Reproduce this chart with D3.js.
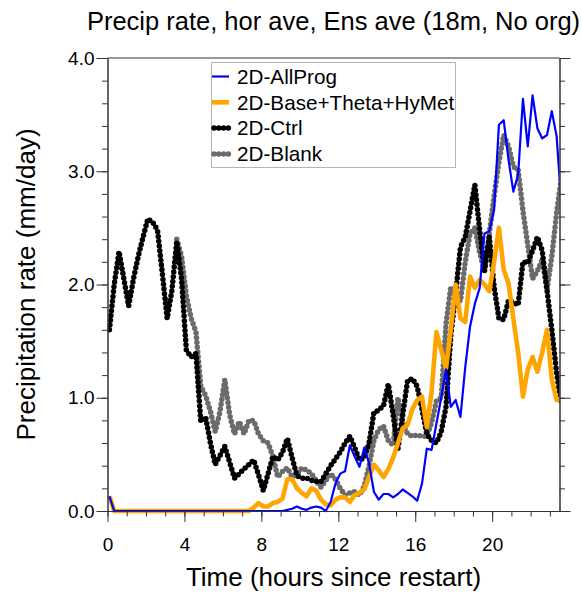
<!DOCTYPE html>
<html>
<head>
<meta charset="utf-8">
<script src="https://cdn.jsdelivr.net/npm/d3@7"></script>
<style>
  body { margin: 0; background: #fff; }
  svg text { font-family: "Liberation Sans", Arial, Helvetica, sans-serif; fill: #000; }
</style>
</head>
<body>
<svg id="chart" width="582" height="594"></svg>
<script>
// output every 15 min, first sample 0.1 h after restart
var startHour = 0.1, stepHour = 0.25;

var allProg = [0.13,0,0,0,0,0,0,0,0,0, 0,0,0,0,0,0,0,0,0,0,
  0,0,0,0,0,0,0,0,0,0, 0,0,0,0,0,0,0,0.01,0.02,0.04,
  0.02,0.01,0.03,0.04,0.03,0.00,0.08,0.24,0.33,0.35, 0.58,0.48,0.39,0.56,0.42,0.17,0.10,0.15,0.15,0.12,
  0.15,0.19,0.16,0.13,0.09,0.24,0.55,0.54,0.77,1.00, 1.25,0.92,0.98,0.83,1.27,1.63,1.83,1.97,2.45,2.47,
  2.66,3.41,3.45,3.10,2.82,2.97,3.64,3.22,3.67,3.38, 3.29,3.32,3.53,3.31,2.70];

var baseThetaHyMet = [0.13,0,0,0,0,0,0,0,0,0, 0,0,0,0,0,0,0,0,0,0,
  0,0,0,0,0,0,0,0,0,0, 0.03,0.07,0.04,0.04,0.07,0.08,0.11,0.28,0.28,0.20,
  0.16,0.13,0.20,0.18,0.10,0.06,0.05,0.10,0.12,0.12, 0.08,0.14,0.16,0.19,0.30,0.41,0.36,0.30,0.37,0.47,
  0.60,0.73,0.76,0.90,0.98,1.01,0.74,1.05,1.58,1.42, 1.26,1.60,2.00,1.70,1.67,2.07,1.97,2.04,2.00,1.94,
  2.20,2.50,2.13,2.01,1.70,1.40,1.01,1.25,1.36,1.23, 1.40,1.60,1.16,0.98,1.00];

var ctrl = [1.60,2.00,2.29,2.05,1.81,2.05,2.25,2.42,2.58,2.55, 2.48,2.10,1.70,1.95,2.38,2.05,1.42,1.36,1.39,0.79,
  0.83,0.60,0.41,0.49,0.57,0.43,0.29,0.33,0.37,0.41, 0.45,0.32,0.18,0.33,0.48,0.45,0.52,0.64,0.47,0.31,
  0.29,0.29,0.27,0.26,0.26,0.33,0.40,0.46,0.52,0.60, 0.66,0.56,0.45,0.47,0.60,0.87,0.89,0.93,1.12,0.85,
  0.55,0.85,1.15,1.17,1.10,0.90,0.68,0.62,0.60,0.70, 0.92,1.55,1.92,2.33,2.42,2.65,2.88,2.48,2.12,2.42,
  1.98,1.70,1.69,1.86,1.84,1.82,2.20,2.19,2.30,2.42, 2.30,1.95,1.60,1.22,0.95];

var blank = [null,null,null,null,null,null,null,null,null,null, null,null,null,null,2.40,2.25,1.90,1.70,1.58,1.10,
  1.02,0.88,0.70,0.88,1.16,0.85,0.68,0.79,0.68,0.80, 0.80,0.68,0.62,0.60,0.48,0.30,0.35,0.38,0.30,0.32,
  0.38,0.36,0.33,0.27,0.21,0.27,0.33,0.28,0.20,0.14, 0.16,0.17,0.14,0.22,0.40,0.62,0.72,0.75,0.62,0.58,
  1.00,0.78,0.68,0.66,0.67,0.66,0.66,0.78,0.97,1.00, 1.65,1.98,1.90,1.85,2.20,2.45,2.50,2.28,2.12,2.45,
  2.78,3.08,3.32,3.22,3.04,3.01,2.65,2.35,2.05,2.12, 2.22,1.95,2.25,2.63,2.95];

var seriesNames = ["2D-AllProg", "2D-Base+Theta+HyMet", "2D-Ctrl", "2D-Blank"];
var xMajorTicks = [0, 4, 8, 12, 16, 20];
var yMajorTicks = [0, 1, 2, 3, 4];

var styles = {
  "2D-AllProg": {color: "#0000ff", width: 2.2, dash: null},
  "2D-Base+Theta+HyMet": {color: "#ffa500", width: 4.6, dash: null},
  "2D-Ctrl": {color: "#000000", width: 5.5, dash: "0,4.8"},
  "2D-Blank": {color: "#6b6b6b", width: 5.5, dash: "0,4.8"}
};

var series = [
  {name: "2D-AllProg", values: allProg},
  {name: "2D-Base+Theta+HyMet", values: baseThetaHyMet},
  {name: "2D-Ctrl", values: ctrl},
  {name: "2D-Blank", values: blank}
];

var plotLeft = 107.5, plotRight = 559.5, plotTop = 58, plotBottom = 511;

var svg = d3.select("#chart");

var x = d3.scaleLinear().domain([0, 23.5]).range([plotLeft, plotRight]);
var y = d3.scaleLinear().domain([0, 4]).range([plotBottom, plotTop]);

svg.append("defs").append("clipPath")
    .attr("id", "plotClip")
  .append("rect")
    .attr("x", plotLeft)
    .attr("y", 0)
    .attr("width", plotRight - plotLeft)
    .attr("height", 594);

var line = d3.line()
    .defined(d => d.v !== null)
    .x(d => x(d.t))
    .y(d => y(d.v));

// draw in reverse of legend order, AllProg ends up on top
var lines = svg.append("g").attr("clip-path", "url(#plotClip)");
series.slice().reverse().forEach(function(s) {
    var st = styles[s.name];
    lines.append("path")
        .datum(s.values.map((v, i) => ({t: startHour + stepHour * i, v: v})))
        .attr("fill", "none")
        .attr("stroke", st.color)
        .attr("stroke-width", st.width)
        .attr("stroke-linejoin", "round")
        .attr("stroke-linecap", st.dash ? "round" : "butt")
        .attr("stroke-dasharray", st.dash)
        .attr("d", line);
});

// axes
function styleAxis(g) {
    g.selectAll("path, line").attr("stroke", "#333").attr("stroke-width", 1);
    g.selectAll("text")
        .style("font-family", '"Liberation Sans", Arial, sans-serif')
        .style("font-size", "19px")
        .attr("fill", "#000");
}

svg.append("g")
    .attr("transform", `translate(0,${plotBottom})`)
    .call(d3.axisBottom(x).tickValues(d3.range(0, 24, 1)).tickSize(5.5).tickSizeOuter(0).tickFormat(""))
    .call(styleAxis);
svg.append("g")
    .attr("transform", `translate(0,${plotBottom})`)
    .call(d3.axisBottom(x).tickValues(xMajorTicks).tickSize(11).tickSizeOuter(0).tickPadding(16).tickFormat(d3.format("d")))
    .call(styleAxis);

svg.append("g")
    .attr("transform", `translate(${plotLeft},0)`)
    .call(d3.axisLeft(y).tickValues(d3.range(0, 4.01, 0.2)).tickSize(5.5).tickSizeOuter(0).tickFormat(""))
    .call(styleAxis);
svg.append("g")
    .attr("transform", `translate(${plotLeft},0)`)
    .call(d3.axisLeft(y).tickValues(yMajorTicks).tickSize(11).tickSizeOuter(0).tickPadding(2).tickFormat(d3.format(".1f")))
    .call(styleAxis);

svg.append("g")
    .attr("transform", `translate(${plotRight},0)`)
    .call(d3.axisRight(y).tickValues(d3.range(0, 4.01, 0.2)).tickSize(5.5).tickSizeOuter(0).tickFormat(""))
    .call(styleAxis);
svg.append("g")
    .attr("transform", `translate(${plotRight},0)`)
    .call(d3.axisRight(y).tickValues(yMajorTicks).tickSize(11).tickSizeOuter(0).tickFormat(""))
    .call(styleAxis);

svg.append("line")
    .attr("x1", plotLeft).attr("x2", plotRight)
    .attr("y1", plotTop).attr("y2", plotTop)
    .attr("stroke", "#333");

// titles
svg.append("text")
    .attr("x", (plotLeft + plotRight) / 2)
    .attr("y", 30)
    .attr("text-anchor", "middle")
    .style("font-size", "25.5px")
    .text("Precip rate, hor ave, Ens ave (18m, No org)");

svg.append("text")
    .attr("x", (plotLeft + plotRight) / 2)
    .attr("y", 586)
    .attr("text-anchor", "middle")
    .style("font-size", "26px")
    .text("Time (hours since restart)");

svg.append("text")
    .attr("transform", `translate(35,${(plotTop + plotBottom) / 2}) rotate(-90)`)
    .attr("text-anchor", "middle")
    .style("font-size", "26px")
    .text("Precipitation rate (mm/day)");

// legend
var legend = svg.append("g");
legend.append("rect")
    .attr("x", 211.5).attr("y", 62.5)
    .attr("width", 244).attr("height", 105)
    .attr("fill", "none")
    .attr("stroke", "#b5b5b5");

var rows = legend.selectAll("g.row")
    .data(seriesNames)
    .join("g")
    .attr("class", "row")
    .attr("transform", (d, i) => `translate(0,${76.5 + i * 25.8})`);

rows.append("line")
    .attr("x1", d => styles[d].dash ? 214 : 212)
    .attr("x2", 229)
    .attr("y1", 0).attr("y2", 0)
    .attr("stroke", d => styles[d].color)
    .attr("stroke-width", d => styles[d].width)
    .attr("stroke-linecap", d => styles[d].dash ? "round" : "butt")
    .attr("stroke-dasharray", d => styles[d].dash);

rows.append("text")
    .attr("x", 237)
    .attr("dy", "0.35em")
    .style("font-size", "20.7px")
    .text(d => d);
</script>
</body>
</html>
